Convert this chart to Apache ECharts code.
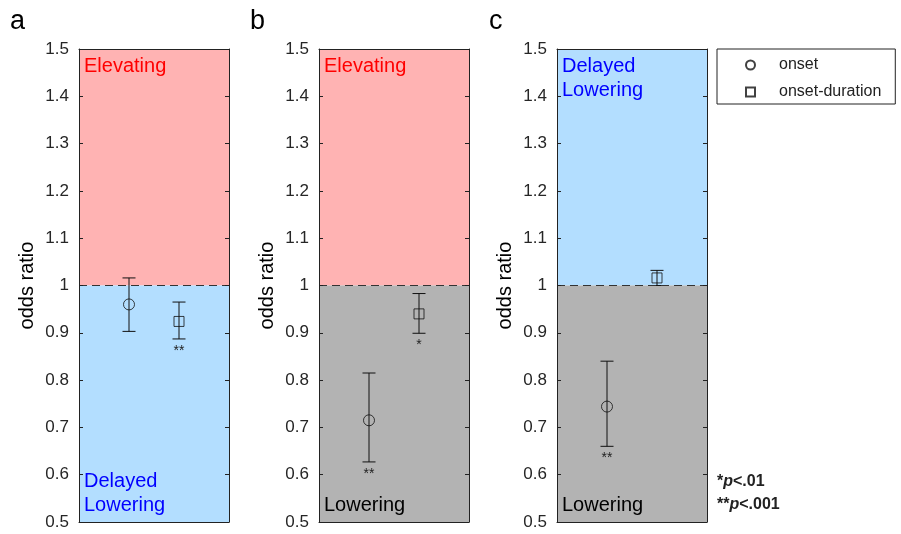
<!DOCTYPE html>
<html>
<head>
<meta charset="utf-8">
<script src="https://cdn.jsdelivr.net/npm/echarts@6/dist/echarts.min.js"></script>
<style>
  html, body { margin: 0; padding: 0; background: #fff; }
  #main { width: 901px; height: 534px; }
</style>
</head>
<body>
<div id="main"></div>
<script>
var myChart = echarts.init(document.getElementById('main'));

// values, one entry per panel a, b, c
var panels = ['a', 'b', 'c'];
var onsetOR = [0.960, 0.715, 0.744];
var onsetLo = [0.903, 0.627, 0.660];
var onsetHi = [1.016, 0.815, 0.840];
var durOR = [0.924, 0.940, 1.016];
var durLo = [0.887, 0.899, 1.000];
var durHi = [0.965, 0.983, 1.032];
var onsetSig = ['', '**', '**'];
var durSig = ['**', '*', ''];
var upperText = ['Elevating', 'Elevating', 'Delayed\nLowering'];
var lowerText = ['Delayed\nLowering', 'Lowering', 'Lowering'];

var PINK = '#ffb3b3', BLUE = '#b3deff', GRAY = '#b3b3b3';
var upperFill = [PINK, PINK, BLUE];
var lowerFill = [BLUE, GRAY, GRAY];
var upperColor = ['#ff0000', '#ff0000', '#0000ff'];
var lowerColor = ['#0000ff', '#000000', '#000000'];

var FONT = 'Liberation Sans, Arial, sans-serif';
var gridLeft = [79, 319, 557];

var grids = [], xAxes = [], yAxes = [], series = [];

panels.forEach(function (p, i) {
    grids.push({left: gridLeft[i], top: 49, width: 150, height: 473});

    // axes on their own layer so the shaded regions don't hide them
    xAxes.push({
        gridIndex: i, type: 'value', min: 0, max: 3, position: 'bottom', zlevel: 1,
        axisLine: {show: true, onZero: false, lineStyle: {color: '#222'}},
        axisTick: {show: false}, axisLabel: {show: false}, splitLine: {show: false}
    });
    xAxes.push({
        gridIndex: i, type: 'value', min: 0, max: 3, position: 'top', zlevel: 1,
        axisLine: {show: true, onZero: false, lineStyle: {color: '#222'}},
        axisTick: {show: false}, axisLabel: {show: false}, splitLine: {show: false}
    });
    yAxes.push({
        gridIndex: i, type: 'value', min: 0.5, max: 1.5, interval: 0.1, position: 'left', zlevel: 1,
        name: 'odds ratio', nameLocation: 'middle', nameGap: 42,
        nameTextStyle: {fontSize: 20, color: '#000', fontFamily: FONT},
        axisLine: {show: true, onZero: false, lineStyle: {color: '#222'}},
        axisTick: {show: true, inside: true, length: 4, lineStyle: {color: '#222'}},
        axisLabel: {fontSize: 17, color: '#262626', margin: 10, fontFamily: FONT},
        splitLine: {show: false}
    });
    yAxes.push({
        gridIndex: i, type: 'value', min: 0.5, max: 1.5, interval: 0.1, position: 'right', zlevel: 1,
        axisLine: {show: true, onZero: false, lineStyle: {color: '#222'}},
        axisTick: {show: true, inside: true, length: 4, lineStyle: {color: '#222'}},
        axisLabel: {show: false}, splitLine: {show: false}
    });

    var sigs = [onsetSig[i], durSig[i]];

    series.push({
        type: 'custom',
        name: 'err' + p,
        xAxisIndex: 2 * i, yAxisIndex: 2 * i,
        silent: true,
        data: [[1, onsetLo[i], onsetHi[i]], [2, durLo[i], durHi[i]]],
        renderItem: function (params, api) {
            var x = api.value(0);
            var lo = api.coord([x, api.value(1)]);
            var hi = api.coord([x, api.value(2)]);
            var w = 6.5;
            var ls = {stroke: '#111', lineWidth: 1};
            var kids = [
                {type: 'line', shape: {x1: lo[0], y1: lo[1], x2: hi[0], y2: hi[1]}, style: ls},
                {type: 'line', shape: {x1: hi[0] - w, y1: hi[1], x2: hi[0] + w, y2: hi[1]}, style: ls},
                {type: 'line', shape: {x1: lo[0] - w, y1: lo[1], x2: lo[0] + w, y2: lo[1]}, style: ls}
            ];
            var s = sigs[params.dataIndex];
            if (s) {
                kids.push({
                    type: 'text',
                    style: {text: s, x: lo[0], y: lo[1] + 5, fill: '#222',
                        font: '14px ' + FONT, textAlign: 'center', textVerticalAlign: 'top'}
                });
            }
            return {type: 'group', children: kids};
        },
        markArea: {
            silent: true,
            data: [
                [{yAxis: 1, itemStyle: {color: upperFill[i]},
                  label: {show: true, position: 'insideTopLeft', distance: 5, formatter: upperText[i],
                          color: upperColor[i], fontSize: 20, lineHeight: 24, fontFamily: FONT}},
                 {yAxis: 1.5}],
                [{yAxis: 0.5, itemStyle: {color: lowerFill[i]},
                  label: {show: true, position: 'insideBottomLeft', distance: 5, formatter: lowerText[i],
                          color: lowerColor[i], fontSize: 20, lineHeight: 24, fontFamily: FONT}},
                 {yAxis: 1}]
            ]
        },
        markLine: {
            silent: true,
            symbol: 'none',
            label: {show: false},
            lineStyle: {color: '#333', type: [8, 5], width: 1},
            data: [{yAxis: 1}]
        }
    });

    series.push({
        type: 'scatter', name: 'onset',
        xAxisIndex: 2 * i, yAxisIndex: 2 * i,
        symbol: 'circle', symbolSize: 11, z: 5,
        itemStyle: {color: 'rgba(0,0,0,0)', borderColor: '#111', borderWidth: 1},
        data: [[1, onsetOR[i]]]
    });
    series.push({
        type: 'scatter', name: 'onset-duration',
        xAxisIndex: 2 * i, yAxisIndex: 2 * i,
        symbol: 'rect', symbolSize: 10, z: 5,
        itemStyle: {color: 'rgba(0,0,0,0)', borderColor: '#111', borderWidth: 1},
        data: [[2, durOR[i]]]
    });
});

var letterX = [10, 250, 489];

option = {
    animation: false,
    backgroundColor: '#fff',
    grid: grids,
    xAxis: xAxes,
    yAxis: yAxes,
    legend: {
        left: 717, top: 49,
        orient: 'vertical',
        data: ['onset', 'onset-duration'],
        itemWidth: 9, itemHeight: 9, itemGap: 11,
        padding: [8, 14, 4, 28],
        borderColor: '#222', borderWidth: 1,
        selectedMode: false,
        textStyle: {fontSize: 16, color: '#222', fontFamily: FONT, padding: [0, 0, 0, 19]}
    },
    graphic: panels.map(function (p, i) {
        return {type: 'text', left: letterX[i], top: 8,
            style: {text: p, font: '27px ' + FONT, fill: '#000'}};
    }).concat([{
        type: 'text', left: 717, top: 474,
        style: {
            text: '{s|*}{p|p}{s|<.01}\n{s|**}{p|p}{s|<.001}',
            rich: {
                s: {font: 'bold 16px ' + FONT, fill: '#222', lineHeight: 23},
                p: {font: 'italic bold 16px ' + FONT, fill: '#222', lineHeight: 23}
            }
        }
    }]),
    series: series
};

myChart.setOption(option);
</script>
</body>
</html>
